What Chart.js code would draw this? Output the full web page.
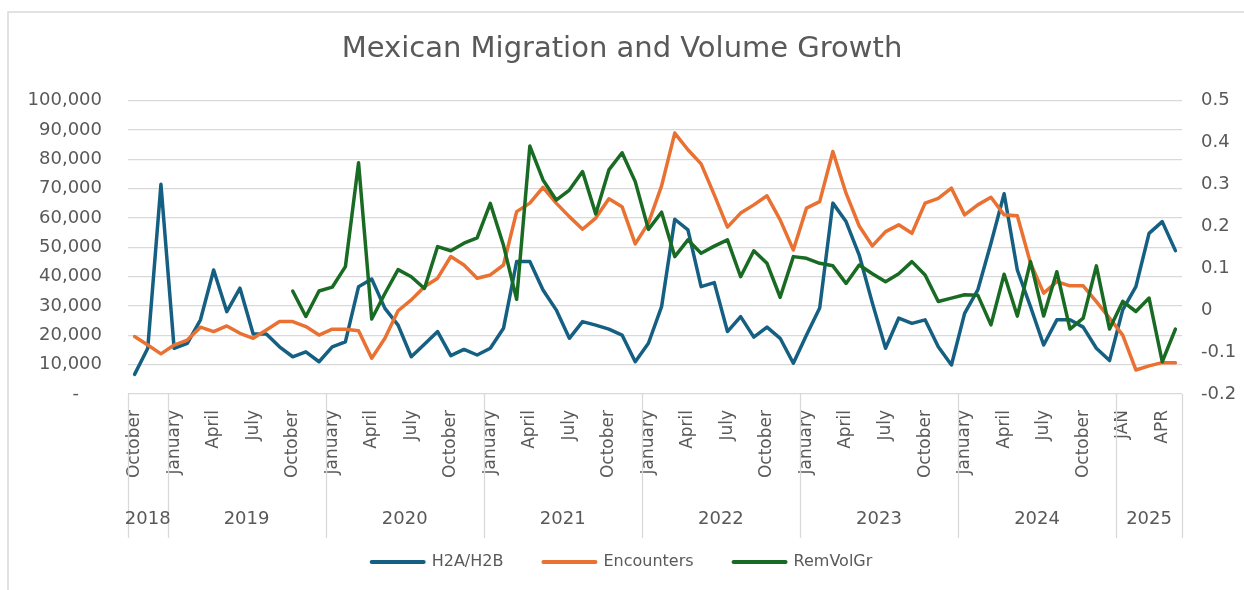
<!DOCTYPE html>
<html><head><meta charset="utf-8">
<script src="https://cdn.jsdelivr.net/npm/chart.js@4/dist/chart.umd.min.js"></script>
<style>html,body{margin:0;padding:0;background:#fff;}#wrap{width:1244px;height:590px;}</style>
</head><body><div id="wrap"><canvas id="c" width="1244" height="590"></canvas></div>
<script>
const monthNames = ['January','February','March','April','May','June','July','August','September','October','November','December'];
const monthNames2025 = ['JAN','FEB','MAR','APR','MAY'];
const years = ['2018','2019','2020','2021','2022','2023','2024','2025'];
const monthsPerYear = [3,12,12,12,12,12,12,5];
const firstMonthIndex = 9; // series starts in October 2018

const h2a = [6700,15600,71500,15600,17300,25300,42300,28100,36100,20500,
  20500,16100,12700,14400,11000,16100,17800,36600,39200,29200,
  23500,12700,17000,21300,13100,15200,13300,15600,22400,45200,
  45200,35500,28700,19000,24700,23500,22100,20100,11000,17300,
  29800,59600,56000,36600,38000,21300,26400,19400,22800,19000,
  10500,20100,29300,65100,58800,47400,31000,15600,25900,24100,
  25300,16100,9900,27500,35500,51400,68300,42300,29800,16700,
  25300,25300,22800,15600,11400,28700,36600,54800,58800,48900];
const encounters = [19600,16700,13700,16700,18400,22800,21300,23200,20700,19000,
  21800,24700,24700,23000,20100,22100,22100,21600,12200,19000,
  28400,32100,36600,39500,46900,44000,39500,40600,44000,62200,
  65100,70500,65100,60500,56200,60000,66600,63900,51200,58300,
  71000,89000,83300,78500,67900,56900,61700,64500,67600,59400,
  49100,63400,65600,82700,68500,57300,50500,55400,57700,54800,
  65100,66700,70200,61100,64500,67100,61100,60800,44700,34400,
  38300,36900,36900,31500,25900,20100,8200,9600,10700,10700];
const remVolGr = [null,null,null,null,null,null,null,null,null,null,
  null,null,0.046,-0.015,0.046,0.055,0.104,0.352,-0.021,0.040,
  0.097,0.080,0.052,0.152,0.142,0.160,0.173,0.255,0.155,0.026,
  0.392,0.311,0.263,0.287,0.331,0.230,0.335,0.376,0.307,0.193,
  0.234,0.128,0.168,0.136,0.153,0.168,0.080,0.142,0.112,0.031,
  0.128,0.124,0.112,0.106,0.064,0.108,0.087,0.068,0.087,0.116,
  0.084,0.021,0.029,0.037,0.036,-0.035,0.086,-0.014,0.116,-0.014,
  0.092,-0.045,-0.019,0.106,-0.045,0.021,-0.003,0.029,-0.123,-0.045];
const leftAxis = {min: 0, max: 100000, step: 10000};
const rightAxis = {min: -0.2, max: 0.5, step: 0.1};

const categories = [];
years.forEach((y, yi) => {
  const start = yi === 0 ? firstMonthIndex : 0;
  for (let m = start; m < start + monthsPerYear[yi]; m++) {
    categories.push(y === '2025' ? monthNames2025[m] : monthNames[m]);
  }
});

const FONT = 'DejaVu Sans';
const GREY = '#595959';
const GRID = '#d9d9d9';

const framePlugin = {
  id: 'frame',
  beforeDraw(chart) {
    const ctx = chart.ctx;
    ctx.save();
    ctx.fillStyle = '#fff';
    ctx.fillRect(0, 0, chart.width, chart.height);
    ctx.strokeStyle = GRID;
    ctx.lineWidth = 1.5;
    ctx.beginPath();
    ctx.moveTo(8, chart.height);
    ctx.lineTo(8, 12);
    ctx.lineTo(chart.width, 12);
    ctx.stroke();
    ctx.restore();
  }
};

const yearAxisPlugin = {
  id: 'yearAxis',
  afterDraw(chart) {
    const xs = chart.scales.x;
    const ctx = chart.ctx;
    const step = xs.getPixelForValue(1) - xs.getPixelForValue(0);
    const edge = (k) => xs.getPixelForValue(0) - step / 2 + k * step;
    const top = chart.chartArea.bottom;
    const bounds = [0];
    monthsPerYear.forEach(n => bounds.push(bounds[bounds.length - 1] + n));
    ctx.save();
    ctx.strokeStyle = GRID;
    ctx.lineWidth = 1.3;
    bounds.forEach(b => {
      const x = Math.round(edge(b)) + 0.5;
      ctx.beginPath();
      ctx.moveTo(x, top);
      ctx.lineTo(x, top + 144);
      ctx.stroke();
    });
    ctx.fillStyle = GREY;
    ctx.font = '18px "' + FONT + '"';
    ctx.textAlign = 'center';
    ctx.textBaseline = 'middle';
    years.forEach((y, i) => {
      const x = (edge(bounds[i]) + edge(bounds[i + 1])) / 2;
      ctx.fillText(y, x, top + 125);
    });
    ctx.restore();
  }
};

const lineDefaults = {
  borderWidth: 3.5,
  pointRadius: 0,
  pointHoverRadius: 0,
  tension: 0,
  borderJoinStyle: 'round',
  borderCapStyle: 'round',
  fill: false
};

new Chart(document.getElementById('c'), {
  type: 'line',
  data: {
    labels: categories,
    datasets: [
      Object.assign({label: 'H2A/H2B', data: h2a, borderColor: '#156082', backgroundColor: '#156082', yAxisID: 'y', order: 3}, lineDefaults),
      Object.assign({label: 'Encounters', data: encounters, borderColor: '#E97132', backgroundColor: '#E97132', yAxisID: 'y', order: 2}, lineDefaults),
      Object.assign({label: 'RemVolGr', data: remVolGr, borderColor: '#196B24', backgroundColor: '#196B24', yAxisID: 'y1', order: 1}, lineDefaults)
    ]
  },
  options: {
    responsive: false,
    animation: false,
    events: [],
    layout: {padding: {left: 0, right: 0, top: 0, bottom: 10}},
    plugins: {
      title: {
        display: true,
        text: 'Mexican Migration and Volume Growth',
        color: GREY,
        font: {family: FONT, size: 29, weight: 'normal'},
        padding: {top: 32, bottom: 34}
      },
      legend: {
        position: 'bottom',
        labels: {
          usePointStyle: true,
          pointStyle: 'line',
          pointStyleWidth: 52,
          padding: 40,
          color: GREY,
          font: {family: FONT, size: 16},
          sort: (a, b) => a.datasetIndex - b.datasetIndex,
          generateLabels: (chart) => Chart.defaults.plugins.legend.labels.generateLabels(chart)
            .map(l => Object.assign(l, {lineWidth: 4, lineCap: 'round', pointStyle: 'line'}))
        }
      },
      tooltip: {enabled: false}
    },
    scales: {
      x: {
        type: 'category',
        offset: true,
        grid: {display: false, drawTicks: false},
        border: {display: false},
        ticks: {
          autoSkip: false,
          maxRotation: 90,
          minRotation: 90,
          padding: 16,
          color: GREY,
          font: {family: FONT, size: 17},
          callback: function (v, i) { return i % 3 === 0 ? this.getLabelForValue(v) : ''; }
        },
        afterFit(s) { s.height = 120; }
      },
      y: {
        position: 'left',
        min: leftAxis.min,
        max: leftAxis.max,
        grid: {color: GRID, lineWidth: 1.3, drawTicks: false},
        border: {display: false},
        ticks: {
          stepSize: leftAxis.step,
          padding: 26,
          color: GREY,
          font: {family: FONT, size: 18},
          callback: (v) => v === 0 ? '-    ' : v.toLocaleString('en-US')
        },
        afterFit(s) { s.width = 128; }
      },
      y1: {
        position: 'right',
        min: rightAxis.min,
        max: rightAxis.max,
        grid: {display: false, drawTicks: false},
        border: {display: false},
        ticks: {
          stepSize: rightAxis.step,
          padding: 19,
          color: GREY,
          font: {family: FONT, size: 18},
          callback: (v) => String(Math.round(v * 10) / 10)
        },
        afterFit(s) { s.width = 62; }
      }
    }
  },
  plugins: [framePlugin, yearAxisPlugin]
});
</script>
</body></html>
